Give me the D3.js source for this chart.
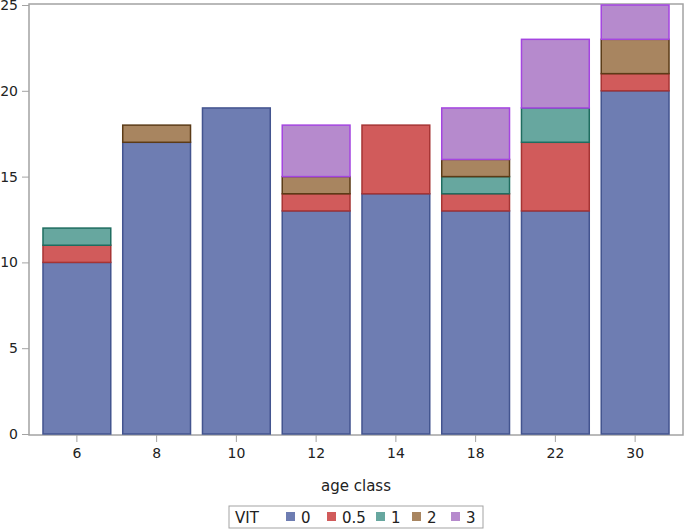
<!DOCTYPE html>
<html>
<head>
<meta charset="utf-8">
<script src="https://cdnjs.cloudflare.com/ajax/libs/d3/7.8.5/d3.min.js"></script>
<style>
  body { margin: 0; background: #fff; }
  text { font-family: "DejaVu Sans", sans-serif; fill: #222; }
</style>
</head>
<body>
<div class="chart"></div>
<script>
var ageClasses = ["6", "8", "10", "12", "14", "18", "22", "30"];
var vitLevels = ["0", "0.5", "1", "2", "3"];
// counts per VIT level, one value per age class
var vit0 = [10, 17, 19, 13, 14, 13, 13, 20];
var vit05 = [1, 0, 0, 1, 4, 1, 4, 1];
var vit1 = [1, 0, 0, 0, 0, 1, 2, 0];
var vit2 = [0, 1, 0, 1, 0, 1, 0, 2];
var vit3 = [0, 0, 0, 3, 0, 3, 4, 2];
var yTicks = [0, 5, 10, 15, 20, 25];

var fills = ["#6e7db2", "#d15b5b", "#67a79f", "#a88560", "#b68acd"];
var strokes = ["#43548f", "#a63434", "#1f6d60", "#5b3b17", "#a445e0"];

var width = 685, height = 531;
var plotL = 29, plotR = 683, plotT = 4, plotB = 435;

var table = ageClasses.map(function(a, i) {
  return { age: a, "0": vit0[i], "0.5": vit05[i], "1": vit1[i], "2": vit2[i], "3": vit3[i] };
});
var series = d3.stack().keys(vitLevels)(table);

var svg = d3.select(".chart").append("svg")
    .attr("width", width)
    .attr("height", height);

var x = d3.scaleBand().domain(ageClasses).range([plotL + 8, plotR - 8]).paddingInner(0.15).paddingOuter(0.075);
var y = d3.scaleLinear().domain([0, 25]).range([plotB - 1, plotT + 1]);

// frame
svg.append("rect")
    .attr("x", plotL).attr("y", plotT)
    .attr("width", plotR - plotL).attr("height", plotB - plotT)
    .attr("fill", "none").attr("stroke", "#a3a3a3").attr("stroke-width", 1.5);

// bars
var groups = svg.selectAll("g.layer").data(series).enter().append("g")
    .attr("class", "layer")
    .attr("fill", function(d, i) { return fills[i]; })
    .attr("stroke", function(d, i) { return strokes[i]; });

groups.selectAll("rect")
    .data(function(d) { return d.filter(function(p) { return p[1] > p[0]; }); })
    .enter().append("rect")
    .attr("x", function(d) { return x(d.data.age); })
    .attr("width", x.bandwidth())
    .attr("y", function(d) { return y(d[1]); })
    .attr("height", function(d) { return y(d[0]) - y(d[1]); })
    .attr("stroke-width", 1.5);

// axes
var yAxis = svg.append("g")
    .attr("transform", "translate(" + plotL + ",0)")
    .call(d3.axisLeft(y).tickValues(yTicks).tickSize(7).tickPadding(4));
yAxis.select(".domain").remove();
yAxis.selectAll("line").attr("stroke", "#a3a3a3");
yAxis.selectAll("text").style("font-size", "14px").attr("fill", "#222");

var xAxis = svg.append("g")
    .attr("transform", "translate(0," + plotB + ")")
    .call(d3.axisBottom(x).tickSize(7).tickPadding(6));
xAxis.select(".domain").remove();
xAxis.selectAll("line").attr("stroke", "#a3a3a3");
xAxis.selectAll("text").style("font-size", "14px").attr("fill", "#222");

svg.append("text")
    .attr("x", (plotL + plotR) / 2).attr("y", 491)
    .attr("text-anchor", "middle")
    .style("font-size", "15px")
    .text("age class");

// legend
var lg = svg.append("g");
lg.append("rect")
    .attr("x", 229).attr("y", 506).attr("width", 254).attr("height", 22)
    .attr("fill", "#fff").attr("stroke", "#a3a3a3");
lg.append("text").attr("x", 235).attr("y", 523).style("font-size", "15px").text("VIT");
var legX = [286, 327, 376, 412, 451];
vitLevels.forEach(function(v, i) {
  lg.append("rect")
    .attr("x", legX[i]).attr("y", 512).attr("width", 9).attr("height", 9)
    .attr("fill", fills[i]);
  lg.append("text")
    .attr("x", legX[i] + 15).attr("y", 523)
    .style("font-size", "15px")
    .text(v);
});
</script>
</body>
</html>
